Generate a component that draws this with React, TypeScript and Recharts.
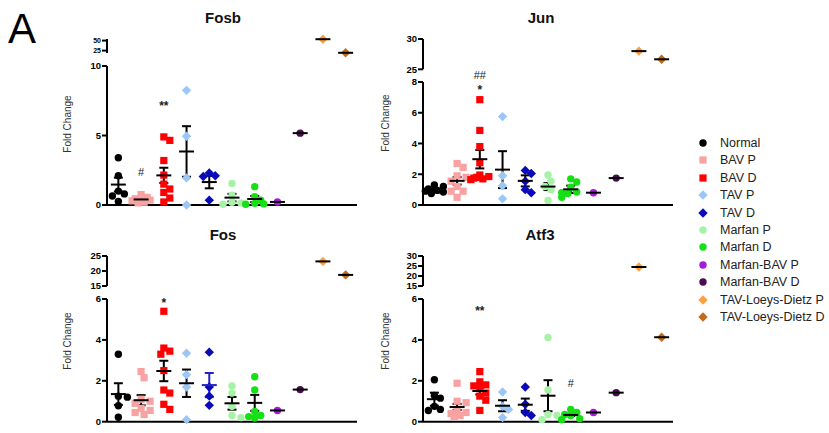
import React from "react"
import { ScatterChart, Scatter, XAxis, YAxis, ErrorBar, ReferenceDot } from "recharts"

const FONT = "Arial, 'Liberation Sans', sans-serif"

const groups = [
  "Normal",
  "BAV P",
  "BAV D",
  "TAV P",
  "TAV D",
  "Marfan P",
  "Marfan D",
  "Marfan-BAV P",
  "Marfan-BAV D",
  "TAV-Loeys-Dietz P",
  "TAV-Loeys-Dietz D",
]
const colors = [
  "#000000",
  "#F8A2A2",
  "#FF0000",
  "#9CC6F6",
  "#0A0AB8",
  "#A6F2A6",
  "#14E014",
  "#A21ED6",
  "#4A0E50",
  "#FF9E3E",
  "#C46A1A",
]
const shapes = ["circle", "square", "square", "diamond", "diamond", "circle", "circle", "circle", "circle", "diamond", "diamond"]

// Fosb
const fosbPoints = [
  [3.4, 2.1, 1.0, 0.8, 0.65, 0.25],
  [0.75, 0.55, 0.45, 0.4, 0.35, 0.3, 0.2, 0.15, 0.4],
  [4.9, 4.65, 3.2, 2.15, 1.5, 1.15, 0.9, 0.5, 0.22],
  [8.25, 4.95, 1.95, 0.0],
  [2.3, 2.1, 2.05, 0.35],
  [1.55, 0.7, 0.2, 0.15, 0.05],
  [1.32, 0.6, 0.35, 0.12, 0.05, 0.08],
  [0.22],
  [5.17],
  [53.5],
  [19.5],
]
const fosbMeans = [1.47, 0.4, 2.13, 3.85, 1.65, 0.53, 0.43, 0.22, 5.17, 53.5, 19.5]
const fosbSem = [0.5, 0.06, 0.55, 1.82, 0.45, 0.27, 0.22, 0, 0, 0, 0]
const fosbMarks = [
  { g: 1, y: 2.37, text: "#" },
  { g: 2, y: 7.2, text: "**" },
]

// Jun
const junPoints = [
  [1.3, 1.2, 1.05, 0.95, 0.85, 0.75, 0.9],
  [2.7, 2.45, 1.9, 1.8, 1.55, 1.2, 0.9, 0.9, 0.5],
  [6.85, 4.85, 3.8, 2.75, 1.95, 1.85, 1.75, 1.7, 1.8, 1.65],
  [5.75, 1.9, 1.25, 0.4],
  [2.25, 2.05, 1.55, 1.0, 0.8],
  [1.95, 1.55, 1.2, 1.0, 0.3],
  [1.7, 1.5, 1.15, 0.85, 0.75, 0.5, 0.8],
  [0.8],
  [1.75],
  [28.0],
  [26.65],
]
const junMeans = [1.0, 1.57, 2.98, 2.3, 1.57, 1.2, 1.02, 0.8, 1.75, 28.0, 26.65]
const junSem = [0.07, 0.24, 0.6, 1.2, 0.36, 0.23, 0.24, 0, 0, 0, 0]
const junMarks = [
  { g: 2, y: 7.57, text: "*" },
  { g: 2, y: 8.45, text: "##" },
]

// Fos
const fosPoints = [
  [3.3, 1.25, 1.2, 0.78, 0.22],
  [2.45, 2.15, 1.1, 1.0, 0.9, 0.65, 0.55, 0.45, 0.35],
  [5.4, 3.6, 3.45, 3.3, 2.5, 1.55, 1.4, 0.85, 0.6],
  [3.35, 2.3, 1.7, 0.1],
  [3.4, 1.7, 1.25, 0.8],
  [1.75, 1.4, 0.75, 0.3, 0.2],
  [2.2, 1.55, 0.5, 0.3, 0.25, 0.18],
  [0.55],
  [1.57],
  [23.2],
  [18.7],
]
const fosMeans = [1.35, 1.05, 2.48, 1.88, 1.79, 0.9, 0.92, 0.55, 1.57, 23.2, 18.7]
const fosSem = [0.53, 0.25, 0.5, 0.67, 0.59, 0.31, 0.39, 0, 0, 0, 0]
const fosMarks = [{ g: 2, y: 5.84, text: "*" }]

// Atf3
const atf3Points = [
  [2.05, 1.28, 1.15, 0.75, 0.6, 0.55],
  [1.88, 1.0, 0.93, 0.57, 0.45, 0.4, 0.3, 0.25],
  [2.45, 1.95, 1.8, 1.75, 1.65, 1.4, 1.25, 1.05, 0.55],
  [1.45, 0.75, 0.6, 0.2],
  [1.7, 0.85, 0.45, 0.3],
  [4.12, 1.55, 0.35, 0.3, 0.1],
  [0.6, 0.45, 0.35, 0.3, 0.15, 0.1],
  [0.45],
  [1.42],
  [24.5],
  [4.13],
]
const atf3Means = [1.1, 0.72, 1.5, 0.78, 0.83, 1.27, 0.33, 0.45, 1.42, 24.5, 4.13]
const atf3Sem = [0.32, 0.15, 0.17, 0.27, 0.3, 0.76, 0.05, 0, 0, 0, 0]
const atf3Marks = [
  { g: 2, y: 5.47, text: "**" },
  { g: 6, y: 1.91, text: "#" },
]

type Geo = {
  axisX: number
  lowTop: number
  lowBottom: number
  lowDomain: [number, number]
  lowTicks: number[]
  upTop: number
  upBottom: number
  upDomain: [number, number]
  upTicks: number[]
  upFont: number
  breakAt: number
}

const PLOT_W = 250
const TOP_PAD = 22

// spread overlapping points sideways, like a dot plot
function swarm(vals: number[], pxPerUnit: number, size = 6.5, step = 3, maxOff = 9) {
  const placed: [number, number][] = []
  return vals.map((v) => {
    const y = v * pxPerUnit
    let bestDx = 0
    let bestGap = -1
    for (let k = 0; k < 13; k++) {
      const dx = (k % 2 ? 1 : -1) * Math.ceil(k / 2) * step
      if (Math.abs(dx) > maxOff) break
      const gap = placed.length ? Math.min(...placed.map(([px, py]) => Math.hypot(px - dx, py - y))) : Infinity
      if (gap >= size) {
        bestDx = dx
        break
      }
      if (gap > bestGap) {
        bestGap = gap
        bestDx = dx
      }
    }
    placed.push([bestDx, y])
    return bestDx
  })
}

const markerShape = (g: number) => (props: any) => {
  const { cx, cy } = props
  const c = colors[g]
  if (shapes[g] === "square") return <rect x={cx - 3.6} y={cy - 3.6} width={7.2} height={7.2} fill={c} />
  if (shapes[g] === "diamond")
    return <polygon points={`${cx},${cy - 4.7} ${cx + 4.7},${cy} ${cx},${cy + 4.7} ${cx - 4.7},${cy}`} fill={c} />
  return <circle cx={cx} cy={cy} r={3.7} fill={c} />
}

const meanShape = (color: string) => (props: any) => (
  <line x1={props.cx - 7.5} x2={props.cx + 7.5} y1={props.cy} y2={props.cy} stroke={color} strokeWidth={2} />
)

const axisStyle = { stroke: "#000", strokeWidth: 2 }

function seriesFor(
  points: number[][],
  means: number[],
  sem: number[],
  inRange: (v: number) => boolean,
  pxPerUnit: number,
  statColors: Record<number, string>
) {
  const band = PLOT_W / groups.length
  const dots = points.map((vals, g) => {
    const vs = vals.filter(inRange)
    const offs = swarm(vs, pxPerUnit)
    return vs.map((v, i) => ({ x: g + 0.5 + offs[i] / band, y: v }))
  })
  const statsByColor: Record<string, { x: number; y: number; err: number }[]> = {}
  means.forEach((m, g) => {
    if (!inRange(m)) return
    const c = statColors[g] || "#000"
    ;(statsByColor[c] = statsByColor[c] || []).push({ x: g + 0.5, y: m, err: sem[g] })
  })
  return (
    <>
      {dots.map((d, g) =>
        d.length ? (
          <Scatter key={"d" + g} data={d} shape={markerShape(g)} isAnimationActive={false} />
        ) : null
      )}
      {Object.keys(statsByColor).map((c) => (
        <Scatter key={"s" + c} data={statsByColor[c]} shape={meanShape(c)} isAnimationActive={false}>
          <ErrorBar dataKey="err" direction="y" width={4.5} stroke={c} strokeWidth={2} />
        </Scatter>
      ))}
    </>
  )
}

const tickFont = (size: number) => ({ fontSize: size, fontWeight: "bold", fill: "#000", fontFamily: FONT })

function Panel({
  points,
  means,
  sem,
  marks,
  geo,
  statColors = {},
}: {
  points: number[][]
  means: number[]
  sem: number[]
  marks: { g: number; y: number; text: string }[]
  geo: Geo
  statColors?: Record<number, string>
}) {
  const lowH = geo.lowBottom - geo.lowTop
  const upH = geo.upBottom - geo.upTop
  const lowPx = lowH / (geo.lowDomain[1] - geo.lowDomain[0])
  const upPx = upH / (geo.upDomain[1] - geo.upDomain[0])
  const isLow = (v: number) => v <= geo.breakAt
  const isUp = (v: number) => v > geo.breakAt
  return (
    <>
      <div style={{ position: "absolute", left: geo.axisX - 40, top: geo.upTop - 10 }}>
        <ScatterChart width={300} height={upH + 20} margin={{ top: 10, right: 10, bottom: 10, left: 0 }}>
          <XAxis type="number" dataKey="x" domain={[0, groups.length]} hide />
          <YAxis
            type="number"
            dataKey="y"
            domain={geo.upDomain}
            ticks={geo.upTicks}
            interval={0}
            width={40}
            tickSize={5}
            tickMargin={1}
            axisLine={axisStyle}
            tickLine={axisStyle}
            tick={tickFont(geo.upFont)}
          />
          {seriesFor(points, means, sem, isUp, upPx, statColors)}
        </ScatterChart>
      </div>
      <div style={{ position: "absolute", left: geo.axisX - 40, top: geo.lowTop - TOP_PAD }}>
        <ScatterChart width={300} height={lowH + TOP_PAD + 6} margin={{ top: TOP_PAD, right: 10, bottom: 0, left: 0 }}>
          <XAxis
            type="number"
            dataKey="x"
            domain={[0, groups.length]}
            height={6}
            tick={false}
            tickLine={false}
            axisLine={axisStyle}
          />
          <YAxis
            type="number"
            dataKey="y"
            domain={geo.lowDomain}
            ticks={geo.lowTicks}
            interval={0}
            width={40}
            tickSize={5}
            tickMargin={1}
            axisLine={axisStyle}
            tickLine={axisStyle}
            tick={tickFont(9.5)}
          />
          {seriesFor(points, means, sem, isLow, lowPx, statColors)}
          {marks.map((m, i) => (
            <ReferenceDot
              key={i}
              x={m.g + 0.5}
              y={m.y}
              r={0}
              ifOverflow="visible"
              shape={(p: any) => (
                <text
                  x={p.cx}
                  y={p.cy + (m.text.includes("*") ? 5 : 4)}
                  textAnchor="middle"
                  fontSize={m.text.includes("*") ? 12 : 11}
                  fontWeight={m.text.includes("*") ? "bold" : "normal"}
                  fill="#222"
                  fontFamily={FONT}
                >
                  {m.text}
                </text>
              )}
            />
          ))}
        </ScatterChart>
      </div>
    </>
  )
}

const fosbGeo: Geo = {
  axisX: 107,
  lowTop: 66,
  lowBottom: 205,
  lowDomain: [0, 10],
  lowTicks: [0, 5, 10],
  upTop: 39.3,
  upBottom: 53.3,
  upDomain: [19, 54],
  upTicks: [25, 50],
  upFont: 7,
  breakAt: 10,
}
const junGeo: Geo = {
  axisX: 423,
  lowTop: 81.7,
  lowBottom: 204.7,
  lowDomain: [0, 8],
  lowTicks: [0, 2, 4, 6, 8],
  upTop: 39,
  upBottom: 69.3,
  upDomain: [25, 30],
  upTicks: [25, 30],
  upFont: 9.5,
  breakAt: 8,
}
const fosGeo: Geo = {
  axisX: 107,
  lowTop: 299,
  lowBottom: 421.7,
  lowDomain: [0, 6],
  lowTicks: [0, 2, 4, 6],
  upTop: 256.3,
  upBottom: 286.3,
  upDomain: [15, 25],
  upTicks: [15, 20, 25],
  upFont: 9.5,
  breakAt: 6,
}
const atf3Geo: Geo = {
  axisX: 423,
  lowTop: 299,
  lowBottom: 421.7,
  lowDomain: [0, 6],
  lowTicks: [0, 2, 4, 6],
  upTop: 256.3,
  upBottom: 286.3,
  upDomain: [15, 30],
  upTicks: [15, 20, 25, 30],
  upFont: 9.5,
  breakAt: 6,
}

function LegendMarker({ g }: { g: number }) {
  const Shape = markerShape(g)
  return (
    <svg width={14} height={14} style={{ display: "block" }}>
      <Shape cx={7} cy={7} />
    </svg>
  )
}

const titles = [
  { text: "Fosb", x: 223, y: 22.7 },
  { text: "Jun", x: 541, y: 22.7 },
  { text: "Fos", x: 223, y: 240 },
  { text: "Atf3", x: 540, y: 240 },
]
const yLabels = [
  { x: 67, y: 124 },
  { x: 385, y: 123 },
  { x: 67, y: 341 },
  { x: 385, y: 341 },
]

export default function App() {
  return (
    <div style={{ position: "absolute", left: 0, top: 0, width: 829, height: 433, background: "#fff", overflow: "hidden" }}>
      <svg width={829} height={433} style={{ position: "absolute", left: 0, top: 0 }}>
        <text x={8} y={43} fontSize={42} fontFamily={FONT} fill="#000">
          A
        </text>
        {titles.map((t) => (
          <text key={t.text} x={t.x} y={t.y} textAnchor="middle" fontSize={15} fontWeight="bold" fontFamily={FONT} fill="#111">
            {t.text}
          </text>
        ))}
        {yLabels.map((l, i) => (
          <text
            key={i}
            transform={`translate(${l.x},${l.y}) rotate(-90)`}
            textAnchor="middle"
            dominantBaseline="central"
            fontSize={10}
            fontFamily={FONT}
            fill="#333"
          >
            Fold Change
          </text>
        ))}
      </svg>
      <Panel points={fosbPoints} means={fosbMeans} sem={fosbSem} marks={fosbMarks} geo={fosbGeo} />
      <Panel points={junPoints} means={junMeans} sem={junSem} marks={junMarks} geo={junGeo} />
      <Panel points={fosPoints} means={fosMeans} sem={fosSem} marks={fosMarks} geo={fosGeo} statColors={{ 4: "#2424C4" }} />
      <Panel points={atf3Points} means={atf3Means} sem={atf3Sem} marks={atf3Marks} geo={atf3Geo} />
      <div style={{ position: "absolute", left: 696, top: 134.3, fontFamily: FONT, fontSize: 12.5, color: "#222" }}>
        {groups.map((name, g) => (
          <div key={name} style={{ display: "flex", alignItems: "center", height: 17.4 }}>
            <LegendMarker g={g} />
            <span style={{ marginLeft: 10, whiteSpace: "nowrap" }}>{name}</span>
          </div>
        ))}
      </div>
    </div>
  )
}
